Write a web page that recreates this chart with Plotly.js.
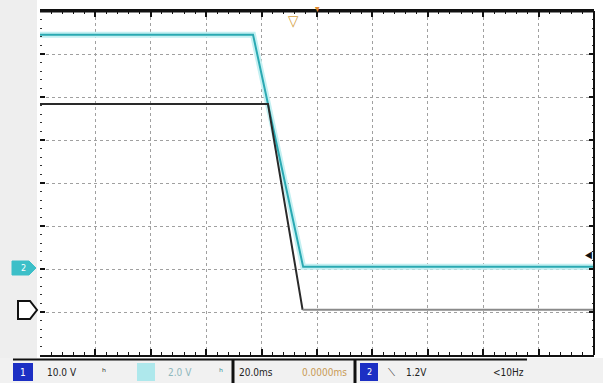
<!DOCTYPE html>
<html><head><meta charset="utf-8">
<script src="https://cdn.plot.ly/plotly-3.0.1.min.js"></script>
<style>html,body{margin:0;padding:0;background:#fff}#chart{width:603px;height:383px}</style>
</head><body><div id="chart"></div>
<script>
// time in ms (20 ms/div), amplitude in divisions
const ch2Time = [-100, -23.1, -5.0, 100];
const ch2Level = [3.45, 3.45, -1.95, -1.95];
const ch1HighTime = [-100, -17.7, -5.2];
const ch1HighLevel = [1.84, 1.84, -2.95];
const ch1LowTime = [-5.2, 100];
const ch1LowLevel = [-2.95, -2.95];
const statusLabels = ["10.0 V", "2.0 V", "20.0ms", "0.0000ms", "1.2V", "<10Hz"];

const W = 603, H = 383, L = 40, R = 594, T = 11, B = 355;
const fx = p => (p - L) / (R - L);
const fy = p => (B - p) / (B - T);
const path = pts => pts.map((p, i) => (i ? 'L ' : 'M ') + fx(p[0]) + ' ' + fy(p[1])).join(' ') + ' Z';

const traces = [
  {x: ch2Time, y: ch2Level, mode: 'lines', line: {color: '#c4f0f2', width: 6}, hoverinfo: 'skip'},
  {x: ch2Time, y: ch2Level, mode: 'lines', line: {color: '#2aa9b2', width: 2}},
  {x: ch1HighTime, y: ch1HighLevel, mode: 'lines', line: {color: '#2a2a2a', width: 2}},
  {x: ch1LowTime, y: ch1LowLevel, mode: 'lines', line: {color: '#8a8a8a', width: 2}}
];

const rectP = (x0, y0, x1, y1, fill, layer) => ({type: 'rect', xref: 'paper', yref: 'paper',
  x0: fx(x0), x1: fx(x1), y0: fy(y0), y1: fy(y1), fillcolor: fill, line: {width: 0}, layer: layer || 'above'});
const lineP = (x0, y0, x1, y1, color, w) => ({type: 'line', xref: 'paper', yref: 'paper',
  x0: fx(x0), x1: fx(x1), y0: fy(y0), y1: fy(y1), line: {color: color, width: w}});

const shapes = [
  rectP(0, 0, 37, 358, '#eeeeee', 'below'),
  rectP(0, 358, 603, 383, '#f1f1f1'),
  lineP(40, 11, 594, 11, '#111', 3),
  lineP(13, 359.5, 527, 359.5, '#111', 2),
  lineP(594, 11, 594, 355, '#111', 2),
  rectP(13, 363, 33, 381, '#1c2fc4'),
  rectP(137, 363, 155, 381, '#aee8ec'),
  lineP(233, 360, 233, 383, '#111', 3),
  lineP(355, 360, 355, 383, '#111', 3),
  rectP(360, 363, 378, 381, '#1c2fc4'),
  {type: 'path', xref: 'paper', yref: 'paper', path: path([[12, 261], [29, 261], [36, 268], [29, 275], [12, 275]]),
    fillcolor: '#3cbfc8', line: {color: '#3cbfc8', width: 1}},
  {type: 'path', xref: 'paper', yref: 'paper', path: path([[18, 301], [30, 301], [37, 310], [30, 319], [18, 319]]),
    fillcolor: '#ffffff', line: {color: '#111', width: 2}}
];

const ann = (px, py, text, color, size, extra) => Object.assign({xref: 'paper', yref: 'paper',
  x: fx(px), y: fy(py), text: text, showarrow: false, xanchor: 'center', yanchor: 'middle',
  font: {family: 'DejaVu Sans Condensed, DejaVu Sans', size: size || 10, color: color}}, extra || {});

const annotations = [
  ann(23, 372, '1', '#ffffff', 10),
  ann(62, 372, statusLabels[0], '#222', 10),
  ann(104, 372, 'ʰ', '#333', 11),
  ann(180, 372, statusLabels[1], '#8fb8bd', 10),
  ann(221, 372, 'ʰ', '#3a8f96', 11),
  ann(256, 372, statusLabels[2], '#222', 10),
  ann(324, 372, statusLabels[3], '#c89a55', 10),
  ann(369, 372, '2', '#ffffff', 9),
  ann(391, 372, '⟍', '#333', 10),
  ann(416, 372, statusLabels[4], '#222', 10),
  ann(508, 372, statusLabels[5], '#222', 10),
  ann(23, 268, '2', '#ffffff', 9),
  ann(293, 21, '▽', '#d4a040', 15),
  ann(317, 9, '▾', '#e08a30', 10),
  ann(588, 255, '◀', '#111', 10)
];

const layout = {
  width: W, height: H,
  margin: {l: L, r: W - R, t: T, b: H - B},
  paper_bgcolor: '#ffffff', plot_bgcolor: '#ffffff',
  showlegend: false,
  xaxis: {range: [-100, 100], dtick: 20, tick0: 0, showgrid: true, gridcolor: '#a0a0a0', griddash: 'dot', gridwidth: 1,
    ticks: 'inside', ticklen: 6, tickwidth: 2, tickcolor: '#111', showline: true, linecolor: '#111', linewidth: 2,
    mirror: 'allticks', showticklabels: false, zeroline: false, fixedrange: true,
    minor: {dtick: 4, ticks: 'inside', ticklen: 3, tickcolor: '#111', tickwidth: 1, showgrid: false}},
  yaxis: {range: [-4, 4], dtick: 1, tick0: 0, showgrid: true, gridcolor: '#a0a0a0', griddash: 'dot', gridwidth: 1,
    ticks: 'inside', ticklen: 5, tickwidth: 2, tickcolor: '#111', showline: false,
    mirror: 'allticks', showticklabels: false, zeroline: false, fixedrange: true,
    minor: {dtick: 0.2, ticks: 'inside', ticklen: 2, tickcolor: '#333', tickwidth: 1, showgrid: false}},
  shapes: shapes,
  annotations: annotations
};

Plotly.newPlot('chart', traces, layout, {displayModeBar: false, staticPlot: true});
</script></body></html>
